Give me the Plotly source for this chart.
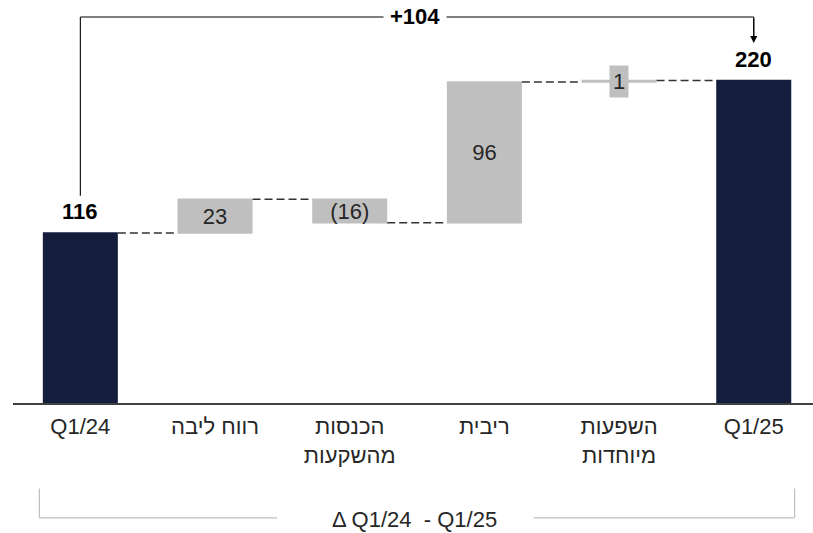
import plotly.graph_objects as go

categories = ["Q1/24", "רווח ליבה", "הכנסות<br>מהשקעות", "ריבית", "השפעות<br>מיוחדות", "Q1/25"]
measures = ["absolute", "relative", "relative", "relative", "relative", "total"]
values = [116, 23, -16, 96, 1, 220]
inside_labels = ["", "23", "(16)", "96", "", ""]
delta_label = "+104"
bracket_label = "Δ Q1/24 \u00a0- Q1/25"

NAVY = "#141e3c"
GRAY = "#bfbfbf"
TXT = "#262626"
FONT = "Liberation Sans, Arial, sans-serif"
FS = 22

idx = list(range(len(categories)))

fig = go.Figure()
fig.add_trace(go.Waterfall(
    x=idx, y=values, measure=measures,
    base=0,
    width=0.557,
    text=inside_labels,
    textposition="inside",
    insidetextanchor="middle",
    textfont=dict(family=FONT, size=FS, color=TXT),
    constraintext="none",
    increasing=dict(marker=dict(color=GRAY, line=dict(width=0))),
    decreasing=dict(marker=dict(color=GRAY, line=dict(width=0))),
    totals=dict(marker=dict(color=NAVY, line=dict(width=0))),
    connector=dict(mode="between", line=dict(color="#333333", width=1.5, dash="8px,4px")),
    hoverinfo="skip",
    showlegend=False,
))

# running totals for label placement
cum = []
s = 0
for m, v in zip(measures, values):
    if m == "absolute":
        s = v
    elif m == "relative":
        s += v
    cum.append(s)

annotations = []
# total labels above navy bars
for i, m in enumerate(measures):
    if m in ("absolute", "total"):
        annotations.append(dict(x=i, y=cum[i], text=f"<b>{cum[i]}</b>", showarrow=False,
                                yanchor="bottom", yshift=7,
                                font=dict(family=FONT, size=FS, color="#000")))
# small-value label with box
small_i = 4
annotations.append(dict(x=small_i, y=cum[small_i] - values[small_i] / 2, text=str(values[small_i]),
                        showarrow=False, bgcolor=GRAY, borderpad=3,
                        font=dict(family=FONT, size=FS, color=TXT)))

# top delta arrow
TOP = 0.958
annotations.append(dict(x=2.485, xref="x", y=TOP, yref="paper", text=f"<b>{delta_label}</b>",
                        showarrow=False, bgcolor="white", borderpad=6,
                        xanchor="center", yanchor="middle",
                        font=dict(family=FONT, size=FS, color="#000")))
annotations.append(dict(x=5, xref="x", y=0.893, yref="paper", text="", showarrow=True,
                        ax=0, ay=-26, axref="pixel", ayref="pixel",
                        arrowhead=2, arrowsize=1.3, arrowwidth=1.1, arrowcolor="#000"))

# bottom bracket label
BOT = -0.285
annotations.append(dict(x=0.5025, xref="paper", y=BOT, yref="paper", text=bracket_label,
                        showarrow=False,
                        xanchor="center", yanchor="middle", yshift=-2,
                        font=dict(family=FONT, size=FS, color=TXT)))

BR_L, BR_R = 0.033, 0.977        # bracket ends (paper x)
GAP_L, GAP_R = 0.33, 0.651       # gap around label (paper x)
shapes = [
    dict(type="line", xref="x", yref="paper", x0=0, x1=0, y0=0.514, y1=TOP, line=dict(color="#000", width=1.1)),
    dict(type="line", xref="x", yref="paper", x0=0, x1=5, y0=TOP, y1=TOP, line=dict(color="#000", width=1.1)),
    dict(type="line", xref="x", yref="paper", x0=5, x1=5, y0=TOP, y1=0.91, line=dict(color="#000", width=1.1)),
    # bottom bracket
    dict(type="line", xref="paper", yref="paper", x0=BR_L, x1=BR_L, y0=-0.212, y1=BOT, line=dict(color="#bfbfbf", width=1.2)),
    dict(type="line", xref="paper", yref="paper", x0=BR_L, x1=GAP_L, y0=BOT, y1=BOT, line=dict(color="#bfbfbf", width=1.2)),
    dict(type="line", xref="paper", yref="paper", x0=GAP_R, x1=BR_R, y0=BOT, y1=BOT, line=dict(color="#bfbfbf", width=1.2)),
    dict(type="line", xref="paper", yref="paper", x0=BR_R, x1=BR_R, y0=-0.212, y1=BOT, line=dict(color="#bfbfbf", width=1.2)),
]

fig.update_layout(
    width=813, height=533,
    margin=dict(l=13, r=0, t=0, b=130),
    paper_bgcolor="white", plot_bgcolor="white",
    annotations=annotations, shapes=shapes,
    showlegend=False,
)
fig.update_xaxes(
    range=[-0.5, 5.44], tickmode="array", tickvals=idx, ticktext=categories,
    showline=True, linecolor="#404040", linewidth=1.5, showgrid=False, zeroline=False,
    ticks="outside", ticklen=3, tickcolor="rgba(0,0,0,0)",
    tickfont=dict(family=FONT, size=FS, color=TXT),
)
fig.update_yaxes(range=[0, 275], visible=False, showgrid=False, zeroline=False)

fig.write_html("out.html", config={"displayModeBar": False},
               post_script="document.body.style.margin='0';document.body.style.overflow='hidden';")
